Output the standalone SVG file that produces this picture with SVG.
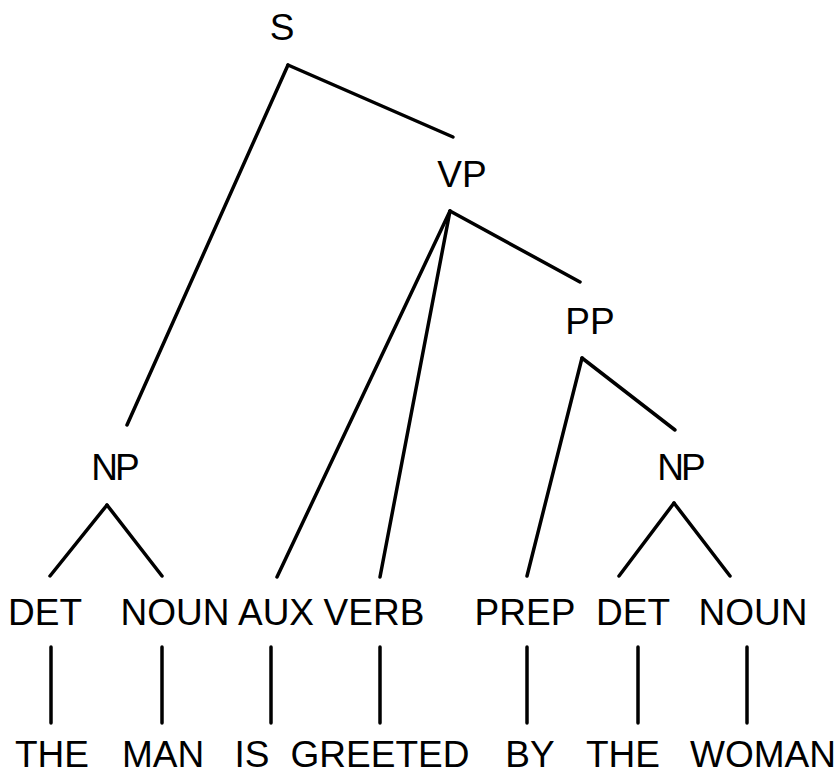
<svg xmlns="http://www.w3.org/2000/svg" width="838" height="774" viewBox="0 0 838 774">
<style>
text{font-family:"Liberation Sans",Arial,sans-serif;font-size:37px;fill:#000;text-anchor:middle}
line{stroke:#000;stroke-width:3.5;stroke-linecap:round}
</style>
<rect width="838" height="774" fill="#fff"/>
<g id="connectors">
<line x1="288" y1="65" x2="453" y2="137"/>
<line x1="288" y1="65" x2="127" y2="425"/>
<line x1="450" y1="211" x2="277" y2="577"/>
<line x1="450" y1="211" x2="380" y2="577"/>
<line x1="450" y1="211" x2="580" y2="282"/>
<line x1="582" y1="358" x2="527" y2="576"/>
<line x1="582" y1="358" x2="675" y2="430"/>
<line x1="107" y1="505" x2="50" y2="576"/>
<line x1="107" y1="505" x2="162" y2="576"/>
<line x1="674" y1="503" x2="619" y2="576"/>
<line x1="674" y1="503" x2="730" y2="576"/>
<line x1="51" y1="647" x2="51" y2="723"/>
<line x1="162" y1="647" x2="162" y2="723"/>
<line x1="271" y1="647" x2="271" y2="723"/>
<line x1="380" y1="647" x2="380" y2="723"/>
<line x1="527" y1="647" x2="527" y2="723"/>
<line x1="638" y1="647" x2="638" y2="723"/>
<line x1="747" y1="647" x2="747" y2="723"/>
</g>
<g id="S"><text x="282" y="40">S</text></g>
<g id="VP"><text x="462" y="187">VP</text></g>
<g id="PP"><text x="590" y="334">PP</text></g>
<g id="NP1"><text x="114" y="480" letter-spacing="-3">NP</text></g>
<g id="NP2"><text x="680" y="480" letter-spacing="-3">NP</text></g>
<g id="DET1"><text x="45" y="625">DET</text></g>
<g id="NOUN1"><text x="175" y="625">NOUN</text></g>
<g id="AUX"><text x="276" y="625">AUX</text></g>
<g id="VERB"><text x="374" y="625">VERB</text></g>
<g id="PREP"><text x="525" y="625">PREP</text></g>
<g id="DET2"><text x="633" y="625">DET</text></g>
<g id="NOUN2"><text x="753" y="625">NOUN</text></g>
<g id="THE1"><text x="52" y="767">THE</text></g>
<g id="MAN"><text x="163" y="767">MAN</text></g>
<g id="IS"><text x="252" y="767">IS</text></g>
<g id="GREETED"><text x="380" y="767">GREETED</text></g>
<g id="BY"><text x="530" y="767">BY</text></g>
<g id="THE2"><text x="623" y="767">THE</text></g>
<g id="WOMAN"><text x="763" y="767">WOMAN</text></g>
</svg>
